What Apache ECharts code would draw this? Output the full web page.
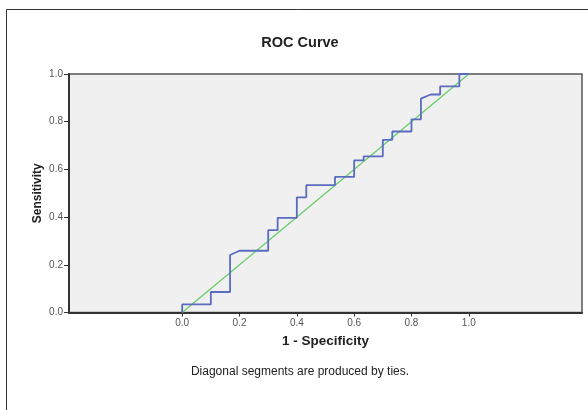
<!DOCTYPE html>
<html>
<head>
<meta charset="utf-8">
<script src="https://cdn.jsdelivr.net/npm/echarts@6/dist/echarts.min.js"></script>
<style>
html, body { margin: 0; padding: 0; background: #fff; }
#chart { width: 588px; height: 410px; }
</style>
</head>
<body>
<div id="chart"></div>
<script>
// 1 - Specificity (false positive rate)
var fpr = [0, 0, 0.1, 0.1, 0.167, 0.167, 0.2, 0.3, 0.3, 0.333, 0.333, 0.4, 0.4, 0.433, 0.433,
    0.533, 0.533, 0.6, 0.6, 0.633, 0.633, 0.7, 0.7, 0.733, 0.733, 0.8, 0.8, 0.833, 0.833,
    0.867, 0.9, 0.9, 0.967, 0.967, 1.0];
// Sensitivity
var tpr = [0, 0.034, 0.034, 0.086, 0.086, 0.241, 0.259, 0.259, 0.345, 0.345, 0.397, 0.397, 0.483, 0.483, 0.534,
    0.534, 0.569, 0.569, 0.638, 0.638, 0.655, 0.655, 0.724, 0.724, 0.759, 0.759, 0.810, 0.810, 0.897,
    0.914, 0.914, 0.948, 0.948, 1.0, 1.0];
var refLine = [[0, 0], [1, 1]];
var tickValues = [0, 0.2, 0.4, 0.6, 0.8, 1.0];

var roc = fpr.map(function (v, i) { return [v, tpr[i]]; });

var chart = echarts.init(document.getElementById('chart'));
var option = {
    animation: false,
    graphic: [
        {
            type: 'rect',
            shape: { x: 6.5, y: 9.5, width: 600, height: 420 },
            style: { fill: 'none', stroke: '#333', lineWidth: 1 }
        },
        {
            type: 'text',
            x: 300,
            y: 42.5,
            style: {
                text: 'ROC Curve',
                align: 'center',
                verticalAlign: 'middle',
                fontFamily: 'Liberation Sans',
                fontSize: 14.5,
                fontWeight: 'bold',
                fill: '#222'
            }
        },
        {
            type: 'text',
            x: 300,
            y: 372,
            style: {
                text: 'Diagonal segments are produced by ties.',
                align: 'center',
                verticalAlign: 'middle',
                fontFamily: 'Liberation Sans',
                fontSize: 12,
                fill: '#222'
            }
        }
    ],
    grid: {
        left: 69, right: 6, top: 74, bottom: 97.5,
        show: true,
        backgroundColor: '#f0f0f0',
        borderColor: '#555',
        borderWidth: 1.5
    },
    xAxis: {
        type: 'value',
        min: -0.395,
        max: 1.395,
        name: '1 - Specificity',
        nameLocation: 'middle',
        nameGap: 22,
        nameMoveOverlap: false,
        nameTextStyle: { fontFamily: 'Liberation Sans', fontSize: 13.5, fontWeight: 'bold', color: '#222' },
        axisLine: { onZero: false, lineStyle: { color: '#333', width: 2 } },
        axisTick: { show: true, length: 4, customValues: tickValues, lineStyle: { color: '#333' } },
        axisLabel: {
            customValues: tickValues,
            fontFamily: 'Liberation Sans', fontSize: 10, color: '#555', margin: 6,
            formatter: function (v) { return v.toFixed(1); }
        },
        splitLine: { show: false }
    },
    yAxis: {
        type: 'value',
        min: 0,
        max: 1,
        interval: 0.2,
        name: 'Sensitivity',
        nameLocation: 'middle',
        nameRotate: 90,
        nameGap: 25,
        nameMoveOverlap: false,
        nameTextStyle: { fontFamily: 'Liberation Sans', fontSize: 12, fontWeight: 'bold', color: '#222' },
        axisLine: { show: true, onZero: false, lineStyle: { color: '#333', width: 2 } },
        axisTick: { show: true, length: 5, lineStyle: { color: '#333' } },
        axisLabel: {
            fontFamily: 'Liberation Sans', fontSize: 10, color: '#555', margin: 6,
            formatter: function (v) { return v.toFixed(1); }
        },
        splitLine: { show: false }
    },
    series: [
        {
            name: 'Reference',
            type: 'line',
            data: refLine,
            showSymbol: false,
            lineStyle: { color: '#66cc66', width: 1.2 }
        },
        {
            name: 'ROC',
            type: 'line',
            data: roc,
            showSymbol: false,
            lineStyle: { color: '#5a6cc0', width: 1.8 }
        }
    ]
};
chart.setOption(option);
</script>
</body>
</html>
